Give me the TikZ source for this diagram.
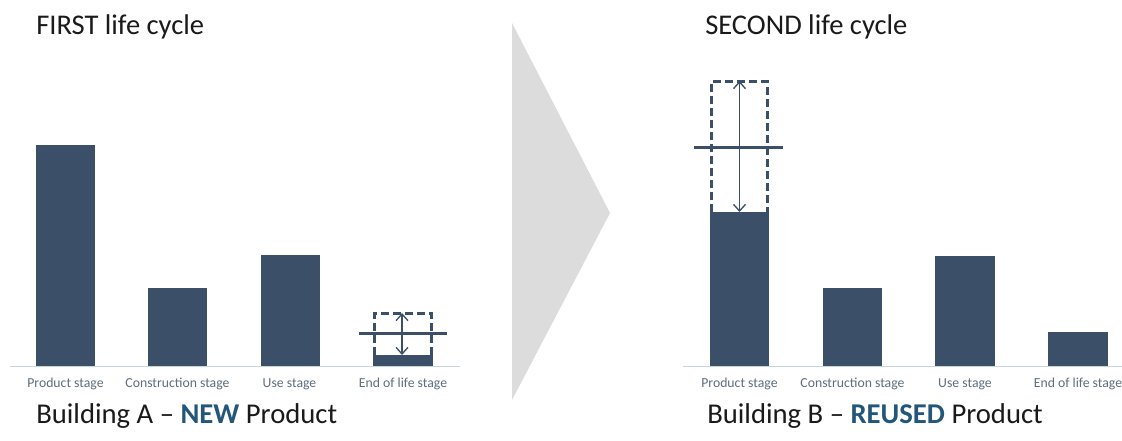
\documentclass[tikz,border=0pt]{standalone}
\usepackage{fontspec}
\setmainfont{Carlito}
\usetikzlibrary{arrows.meta}
\definecolor{barc}{HTML}{3B5068}
\definecolor{axisc}{HTML}{C9D5DD}
\definecolor{labc}{HTML}{5E6E7E}
\definecolor{hlc}{HTML}{23577A}
\definecolor{chev}{HTML}{DCDCDC}
\definecolor{txt}{HTML}{1A1A1A}
\begin{document}
\begin{tikzpicture}[x=0.75pt,y=-0.75pt,
  bar/.style={fill=barc,draw=none},
  ghost/.style={draw=barc,line width=2.2pt,dash pattern=on 6pt off 3pt},
  refline/.style={draw=barc,line width=1.9pt},
  dbl/.style={draw=barc,line width=1pt,{Straight Barb[length=5pt,width=9pt]}-{Straight Barb[length=5pt,width=9pt]}},
  axis/.style={draw=axisc,line width=1pt},
  title/.style={inner sep=0pt,anchor=base west,text=txt,font=\fontsize{21.4}{25}\selectfont},
  caption/.style={inner sep=0pt,anchor=base west,text=txt,font=\fontsize{21.5}{26}\selectfont},
  lab/.style={inner sep=0pt,anchor=base,text=labc,font=\fontsize{10.3}{12}\selectfont}]
\useasboundingbox (0,0) rectangle (1122,441);
\fill[white] (0,0) rectangle (1122,441);

% chevron
\fill[chev] (512,23) -- (610,213) -- (512,400) -- cycle;

% ---------- left chart ----------
\node[title] (t1) at (36,35) {FIRST life cycle};
\draw[axis] (10,366.5) -- (460,366.5);
\fill[bar] (36,145) rectangle (95,366);
\fill[bar] (148,288) rectangle (207,366);
\fill[bar] (261,255) rectangle (320,366);
\fill[bar] (373,355) rectangle (433,366);
\draw[ghost] (374.5,355) -- (374.5,313.5) -- (431.5,313.5) -- (431.5,355);
\draw[refline] (359,333.5) -- (447,333.5);
\coordinate (a1t) at (402,313);
\coordinate (a1b) at (402,355);
\draw[dbl] (a1t) -- (a1b);
\node[lab] (l1) at (65.5,388) {Product stage};
\node[lab] (l2) at (177.5,388) {Construction stage};
\node[lab] (l3) at (289.5,388) {Use stage};
\node[lab] (l4) at (403,388) {End of life stage};
\node[caption] (c1) at (36,424) {Building A -- \textbf{\textcolor{hlc}{NEW}} Product};

% ---------- right chart ----------
\node[title] (t2) at (705,35) {SECOND life cycle};
\draw[axis] (683,366.5) -- (1122,366.5);
\fill[bar] (710,212) rectangle (769,366);
\draw[ghost] (711.5,212) -- (711.5,81.5) -- (767.5,81.5) -- (767.5,212);
\draw[refline] (694,147.5) -- (783,147.5);
\coordinate (a2t) at (739.5,81);
\coordinate (a2b) at (739.5,212);
\draw[dbl] (a2t) -- (a2b);
\fill[bar] (823,288) rectangle (882,366);
\fill[bar] (935,256) rectangle (995,366);
\fill[bar] (1048,332) rectangle (1108,366);
\node[lab] (r1) at (739.5,388) {Product stage};
\node[lab] (r2) at (852.5,388) {Construction stage};
\node[lab] (r3) at (965,388) {Use stage};
\node[lab] (r4) at (1078,388) {End of life stage};
\node[caption] (c2) at (707,424) {Building B -- \textbf{\textcolor{hlc}{REUSED}} Product};
\end{tikzpicture}
\end{document}
